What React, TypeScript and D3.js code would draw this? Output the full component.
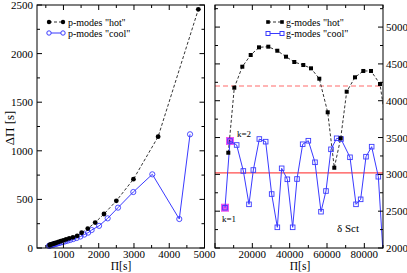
import React from 'react';
import * as d3 from 'd3';

// p-modes: period vs period spacing
const pHot: [number, number][] = [
  [607, 31], [638, 35], [673, 39], [712, 44], [756, 49], [806, 55], [862, 62], [925, 70],
  [995, 78], [1075, 88], [1165, 100], [1270, 110], [1390, 125], [1516, 157], [1690, 200],
  [1900, 262], [2150, 350], [2500, 485], [2985, 708], [3685, 1145], [4825, 2455],
];
const pCool: [number, number][] = [
  [590, 22], [615, 25], [642, 28], [672, 31], [705, 35], [742, 38], [782, 42], [826, 46],
  [874, 51], [927, 56], [985, 62], [1048, 68], [1118, 75], [1195, 83], [1280, 92], [1375, 103],
  [1480, 118], [1590, 138], [1700, 158], [1800, 185], [2010, 228], [2254, 305], [2547, 415],
  [2981, 576], [3520, 758], [4285, 298], [4590, 1170],
];

// g-modes
const gHot: [number, number][] = [
  [7125, 3294], [10340, 4177], [14625, 4462], [19125, 4621], [23570, 4725], [28555, 4734],
  [33375, 4679], [38035, 4598], [42480, 4526], [47300, 4485], [51430, 4440], [55875, 4299],
  [60375, 3843], [63910, 3090], [67340, 3490], [70550, 4123], [75000, 4318], [79445, 4404],
  [83570, 4404], [88390, 4227], [92600, 3500],
];
const gCool: [number, number][] = [
  [5357, 2547], [8036, 3453], [11607, 3399], [15178, 3046], [18214, 2593], [20536, 3059],
  [23750, 3480], [27143, 3444], [30357, 2733], [33393, 2281], [35714, 3082], [38750, 2933],
  [41607, 2281], [43929, 2937], [46964, 3409], [50000, 3457], [53571, 3164], [56786, 2493],
  [59464, 2774], [62143, 3340], [65179, 3490], [67500, 3480], [72321, 3232], [75536, 2593],
  [78036, 2661], [80893, 3240], [83929, 3376], [87500, 2968], [90470, 1750],
];
const kMarks = [{ label: 'k=1', p: [5357, 2547] }, { label: 'k=2', p: [8036, 3453] }];
const hotLevel = 4200;
const sctLevel = 3020;

const leftXTicks = [1000, 2000, 3000, 4000, 5000];
const leftYTicks = [0, 500, 1000, 1500, 2000, 2500];
const rightXTicks = [20000, 40000, 60000, 80000];
const rightYTicks = [2000, 2500, 3000, 3500, 4000, 4500, 5000];

const BLUE = '#3a3aff';
const FONT = '"Liberation Serif", "DejaVu Serif", serif';

const top = 5, bottom = 248;
const lx = d3.scaleLinear().domain([250, 5000]).range([37, 204.5]);
const ly = d3.scaleLinear().domain([0, 2500]).range([bottom, top]);
const rx = d3.scaleLinear().domain([0, 90000]).range([215, 383]);
const ry = d3.scaleLinear().domain([2000, 5300]).range([bottom, top]);

function Frame({ x, y, xMajor, xMinor, yMajor, yMinor }: any) {
  const [x0, x1] = x.range();
  const [y0, y1] = y.range();
  const xd = x.domain(), yd = y.domain();
  const xt = d3.range(Math.ceil(xd[0] / xMinor) * xMinor, xd[1] + 1, xMinor);
  const yt = d3.range(Math.ceil(yd[0] / yMinor) * yMinor, yd[1] + 1, yMinor);
  return (
    <g stroke="#000" strokeWidth={1}>
      <rect x={x0} y={y1} width={x1 - x0} height={y0 - y1} fill="none" />
      {xt.map(v => {
        const len = v % xMajor === 0 ? 5 : 3;
        return (
          <g key={'x' + v}>
            <line x1={x(v)} x2={x(v)} y1={y0} y2={y0 - len} />
            <line x1={x(v)} x2={x(v)} y1={y1} y2={y1 + len} />
          </g>
        );
      })}
      {yt.map(v => {
        const len = v % yMajor === 0 ? 5 : 3;
        return (
          <g key={'y' + v}>
            <line x1={x0} x2={x0 + len} y1={y(v)} y2={y(v)} />
            <line x1={x1} x2={x1 - len} y1={y(v)} y2={y(v)} />
          </g>
        );
      })}
    </g>
  );
}

export default function App() {
  const lineL = d3.line<[number, number]>().x(d => lx(d[0])).y(d => ly(d[1]));
  const lineR = d3.line<[number, number]>().x(d => rx(d[0])).y(d => ry(d[1]));
  return (
    <svg width={407} height={273} style={{ position: 'absolute', left: 0, top: 0, background: '#fff' }}
      fontFamily={FONT}>
      <defs>
        <clipPath id="clipR"><rect x={215} y={top} width={168} height={bottom - top} /></clipPath>
      </defs>

      {/* left panel */}
      <path d={lineL(pHot) || ''} fill="none" stroke="#000" strokeWidth={0.8} strokeDasharray="3,2" />
      <path d={lineL(pCool) || ''} fill="none" stroke={BLUE} strokeWidth={1} />
      {pCool.map((d, i) => (
        <circle key={'pc' + i} cx={lx(d[0])} cy={ly(d[1])} r={2.6} fill="none" stroke={BLUE} strokeWidth={0.9} />
      ))}
      {pHot.map((d, i) => (
        <circle key={'ph' + i} cx={lx(d[0])} cy={ly(d[1])} r={2.4} fill="#000" />
      ))}
      <Frame x={lx} y={ly} xMajor={1000} xMinor={500} yMajor={500} yMinor={250} />
      {leftYTicks.map(v => (
        <text key={v} x={33} y={ly(v) + 4} fontSize={11} textAnchor="end">{v}</text>
      ))}
      {leftXTicks.map(v => (
        <text key={v} x={lx(v)} y={257.5} fontSize={11} textAnchor="middle">{v}</text>
      ))}
      <text transform="translate(14,128) rotate(-90)" fontSize={13} textAnchor="middle">ΔΠ [s]</text>
      <text x={121} y={269.5} fontSize={11.5} textAnchor="middle">Π[s]</text>

      {/* left legend */}
      <line x1={49} x2={63} y1={22} y2={22} stroke="#000" strokeWidth={0.8} strokeDasharray="3,2" />
      <circle cx={49} cy={22} r={2.2} fill="#000" />
      <circle cx={63} cy={22} r={2.2} fill="#000" />
      <text x={68} y={25.5} fontSize={10}>p-modes "hot''</text>
      <line x1={49} x2={63} y1={33} y2={33} stroke={BLUE} strokeWidth={1} />
      <circle cx={49} cy={33} r={2.2} fill="#fff" stroke={BLUE} />
      <circle cx={63} cy={33} r={2.2} fill="#fff" stroke={BLUE} />
      <text x={68} y={36.5} fontSize={10}>p-modes "cool"</text>

      {/* right panel */}
      <g clipPath="url(#clipR)">
        <line x1={rx(0)} x2={rx(90000)} y1={ry(hotLevel)} y2={ry(hotLevel)} stroke="#ff6b6b" strokeWidth={1.2} strokeDasharray="5,3" />
        <line x1={rx(0)} x2={rx(90000)} y1={ry(sctLevel)} y2={ry(sctLevel)} stroke="#ff4d4d" strokeWidth={1.2} />
        {kMarks.map(k => (
          <rect key={k.label} x={rx(k.p[0]) - 4} y={ry(k.p[1]) - 4} width={8} height={8} fill="#f055f0" />
        ))}
        <path d={lineR(gHot) || ''} fill="none" stroke="#000" strokeWidth={0.8} strokeDasharray="3,2" />
        <path d={lineR(gCool) || ''} fill="none" stroke={BLUE} strokeWidth={1} />
        {gCool.map((d, i) => (
          <rect key={'gc' + i} x={rx(d[0]) - 2.3} y={ry(d[1]) - 2.3} width={4.6} height={4.6} fill="none" stroke={BLUE} strokeWidth={0.9} />
        ))}
        {gHot.map((d, i) => (
          <rect key={'gh' + i} x={rx(d[0]) - 2} y={ry(d[1]) - 2} width={4} height={4} fill="#000" />
        ))}
      </g>
      <Frame x={rx} y={ry} xMajor={20000} xMinor={10000} yMajor={500} yMinor={250} />
      {rightYTicks.map(v => (
        <text key={v} x={386} y={ry(v) + 4} fontSize={11}>{v}</text>
      ))}
      {rightXTicks.map(v => (
        <text key={v} x={rx(v)} y={257.5} fontSize={11} textAnchor="middle">{v}</text>
      ))}
      <text x={300} y={269.5} fontSize={11.5} textAnchor="middle">Π[s]</text>
      <text x={rx(kMarks[0].p[0]) + 4} y={ry(kMarks[0].p[1]) + 14} fontSize={9} textAnchor="middle">{kMarks[0].label}</text>
      <text x={rx(kMarks[1].p[0]) + 14} y={ry(kMarks[1].p[1]) - 4} fontSize={9} textAnchor="middle">{kMarks[1].label}</text>
      <text x={337} y={232} fontSize={11}>δ Sct</text>

      {/* right legend */}
      <line x1={268} x2={282} y1={22} y2={22} stroke="#000" strokeWidth={0.8} strokeDasharray="3,2" />
      <rect x={266.2} y={20.2} width={3.6} height={3.6} fill="#000" />
      <rect x={280.2} y={20.2} width={3.6} height={3.6} fill="#000" />
      <text x={286} y={25.5} fontSize={10}>g-modes "hot"</text>
      <line x1={268} x2={282} y1={33.5} y2={33.5} stroke={BLUE} strokeWidth={1} />
      <rect x={266} y={31.5} width={4} height={4} fill="#fff" stroke={BLUE} />
      <rect x={280} y={31.5} width={4} height={4} fill="#fff" stroke={BLUE} />
      <text x={286} y={37} fontSize={10}>g-modes "cool"</text>
    </svg>
  );
}
